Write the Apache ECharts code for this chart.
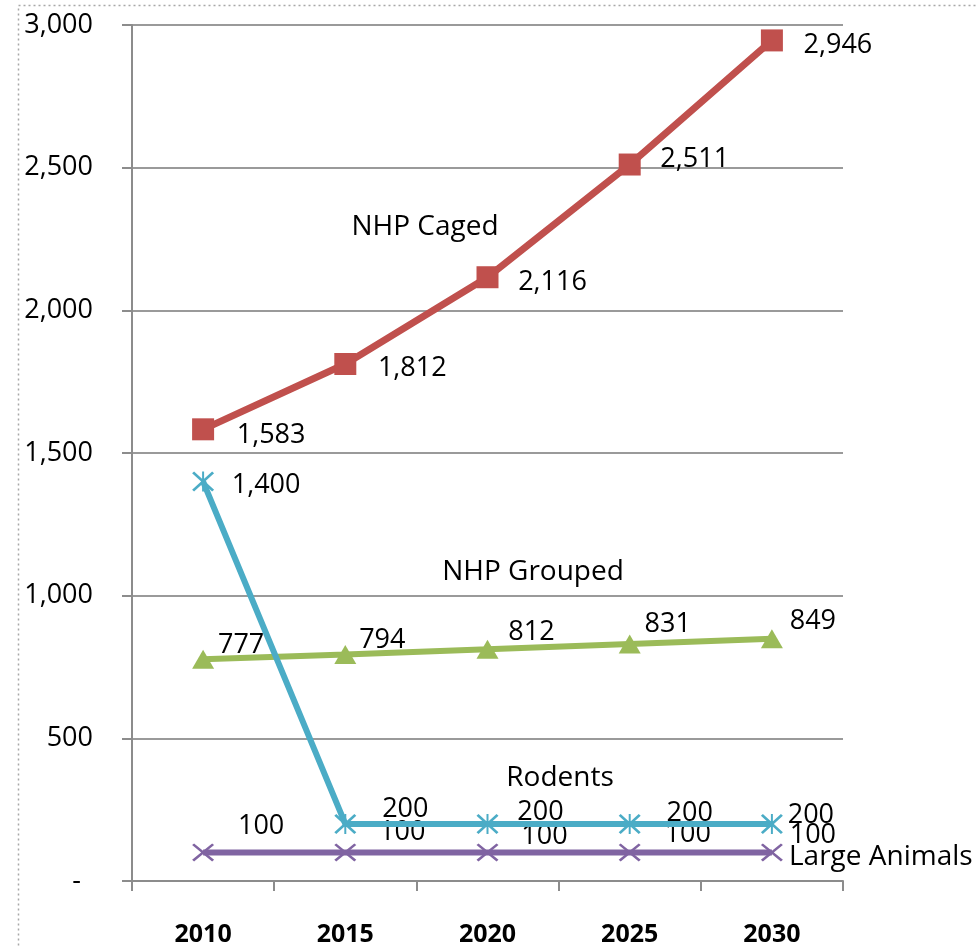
<!DOCTYPE html>
<html>
<head>
<meta charset="utf-8">
<script src="https://cdn.jsdelivr.net/npm/echarts@6/dist/echarts.min.js"></script>
<style>
  html, body { margin: 0; padding: 0; background: #fff; }
  #chart { width: 977px; height: 947px; }
</style>
</head>
<body>
<div id="chart"></div>
<script>
// Projected counts by year
const years = ['2010', '2015', '2020', '2025', '2030'];
const nhpCaged = [1583, 1812, 2116, 2511, 2946];
const nhpGrouped = [777, 794, 812, 831, 849];
const rodents = [1400, 200, 200, 200, 200];
const largeAnimals = [100, 100, 100, 100, 100];
const yTicks = { min: 0, max: 3000, step: 500 };

// Per-point label nudges (pixels from the marker centre)
const cagedLabelShift = [[68, 6], [67, 4], [65, 5], [65, -5], [66, 5]];
const groupedLabelShift = [[38, -14], [37, -14], [44, -17], [38, -20], [41, -17]];
const rodentLabelShift = [[63, 4], [60, -15], [53, -12], [60, -11], [39, -9]];
const largeLabelShift = [[58, -26], [57, -20], [57, -16], [58, -18], [41, -17]];

const FONT = '"Open Sans", "Noto Sans", sans-serif';
const fmt = v => v.toLocaleString('en-US');

// Thin-stroke marker shapes
const crossPath = 'path://M0,1.8 L1.8,0 L20,18.2 L18.2,20 Z M18.2,0 L20,1.8 L1.8,20 L0,18.2 Z';
const starPath = crossPath + ' M9.1,0 L10.9,0 L10.9,20 L9.1,20 Z';

function withLabels(values, shifts) {
  return values.map((v, i) => ({
    value: v,
    label: { offset: shifts[i] }
  }));
}

function lineSeries(name, values, shifts, color, symbol, size, width, z) {
  return {
    name: name,
    type: 'line',
    data: withLabels(values, shifts),
    symbol: symbol,
    symbolSize: size,
    showAllSymbol: true,
    z: z,
    lineStyle: { color: color, width: width },
    itemStyle: { color: color },
    label: {
      show: true,
      position: 'inside',
      align: 'center',
      verticalAlign: 'middle',
      color: '#000',
      fontFamily: FONT,
      fontSize: 27,
      formatter: p => fmt(p.value)
    },
    emphasis: { disabled: true },
    animation: false
  };
}

const chart = echarts.init(document.getElementById('chart'), null, { renderer: 'canvas' });

const nameFont = '28px ' + FONT;

chart.setOption({
  backgroundColor: '#fff',
  animation: false,
  grid: { left: 132, right: 134, top: 25, bottom: 66, containLabel: false },
  xAxis: {
    type: 'category',
    data: years,
    boundaryGap: true,
    axisLine: { lineStyle: { color: '#8c8c8c', width: 2 } },
    axisTick: { show: true, length: 10, lineStyle: { color: '#8c8c8c', width: 2 } },
    axisLabel: {
      margin: 41,
      color: '#000',
      fontFamily: FONT,
      fontSize: 25,
      fontWeight: 'bold'
    },
    splitLine: { show: false }
  },
  yAxis: {
    type: 'value',
    min: yTicks.min,
    max: yTicks.max,
    interval: yTicks.step,
    axisLine: { show: true, lineStyle: { color: '#8c8c8c', width: 2 } },
    axisTick: { show: true, length: 10, lineStyle: { color: '#8c8c8c', width: 2 } },
    splitLine: { show: true, lineStyle: { color: '#9a9a9a', width: 2 } },
    axisLabel: {
      margin: 39,
      color: '#000',
      fontFamily: FONT,
      fontSize: 27,
      formatter: v => v === 0 ? '{d|-}' : fmt(v),
      rich: { d: { fontFamily: FONT, fontSize: 27, color: '#000', padding: [0, 12, 0, 0] } }
    }
  },
  series: [
    lineSeries('Large Animals', largeAnimals, largeLabelShift, '#8064A2', crossPath, [22, 18], 6, 2),
    lineSeries('NHP Grouped', nhpGrouped, groupedLabelShift, '#9BBB59', 'triangle', [22, 19], 6, 3),
    lineSeries('Rodents', rodents, rodentLabelShift, '#4BACC6', starPath, [22, 20], 6, 4),
    lineSeries('NHP Caged', nhpCaged, cagedLabelShift, '#C0504D', 'rect', 22, 7, 5)
  ],
  graphic: [
    {
      type: 'rect',
      silent: true,
      shape: { x: 18.5, y: 5.5, width: 1200, height: 1200 },
      style: { fill: 'none', stroke: '#a8a8a8', lineWidth: 1.5, lineDash: [2, 3] }
    },
    {
      type: 'text', silent: true, x: 425, y: 227,
      style: { text: 'NHP Caged', fill: '#000', font: nameFont, align: 'center', verticalAlign: 'middle' }
    },
    {
      type: 'text', silent: true, x: 533, y: 572,
      style: { text: 'NHP Grouped', fill: '#000', font: nameFont, align: 'center', verticalAlign: 'middle' }
    },
    {
      type: 'text', silent: true, x: 560, y: 778,
      style: { text: 'Rodents', fill: '#000', font: nameFont, align: 'center', verticalAlign: 'middle' }
    },
    {
      type: 'text', silent: true, x: 789, y: 857,
      style: { text: 'Large Animals', fill: '#000', font: nameFont, align: 'left', verticalAlign: 'middle' }
    }
  ]
});
</script>
</body>
</html>
